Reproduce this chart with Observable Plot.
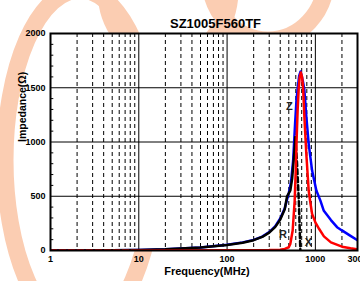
<!DOCTYPE html>
<html>
<head>
<meta charset="utf-8">
<script src="https://cdn.jsdelivr.net/npm/d3@7"></script>
<script src="https://cdn.jsdelivr.net/npm/@observablehq/plot@0.6"></script>
<style>
  html, body { margin: 0; padding: 0; background: white; }
  #wrap { position: relative; width: 360px; height: 281px; overflow: hidden; }
  #wm { position: absolute; left: 0; top: 0; z-index: 0; }
  #chart { position: absolute; left: 0; top: 0; z-index: 1; }
</style>
</head>
<body>
<div id="wrap">
  <svg id="wm" width="360" height="281">
    <ellipse cx="80" cy="160" rx="75" ry="170" fill="none" stroke="#fbcdb2" stroke-width="17"/>
    <ellipse cx="168" cy="-10" rx="62" ry="70" fill="none" stroke="#fbcdb2" stroke-width="17"/>
    <ellipse cx="268" cy="-22" rx="58" ry="62" fill="none" stroke="#fbcdb2" stroke-width="17"/>
  </svg>
  <div id="chart"></div>
</div>
<script>
const title = "SZ1005F560TF";
const xLabel = "Frequency(MHz)";
const yLabel = "Impedance(Ω)";

const xTicks = [1, 10, 100, 1000, 3000];
const xMajorGrid = [10, 100, 1000];
const xMinorGrid = [2,3,4,5,6,7,8,9,20,30,40,50,60,70,80,90,200,300,400,500,600,700,800,900,2000];
const yTicks = [0, 500, 1000, 1500, 2000];
const yGrid = [500, 1000, 1500];
const yMinor = [100,200,300,400,600,700,800,900,1100,1200,1300,1400,1600,1700,1800,1900];

// |Z| (blue)
const zFreq = [1,2,5,10,20,50,100,150,200,250,300,350,400,450,500,530,560,590,610,631,655,680,705,730,751,791,840,918,1026,1140,1241,1500,1761,2000,2500,3000];
const zVal  = [1,1,3,5,11,28,52,75,98,128,170,222,295,390,530,630,830,1180,1380,1500,1610,1650,1600,1540,1475,1228,983,737,553,460,369,280,215,185,135,95];

// X (black), rising part and falling part
const xFreq = [1,2,5,10,20,50,100,150,200,250,300,350,400,450,478,521,545,570,594];
const xVal  = [0.5,1,2.5,5,11,27,50,72,95,125,165,215,285,380,500,555,660,850,1044];
const xFallFreq = [594,620,650,676,690];
const xFallVal  = [1044,800,450,0,-200];

// R (red): low part (dashed in the reference) and main part
const rLowFreq = [1,10];
const rLowVal  = [1,1];
const rFreq = [10,100,200,300,400,450,500,520,553,583,600,612,630,648,665,686,707,726,751,791,840,878,918,1000,1100,1250,1500,2000,2500,3000];
const rVal  = [1,2,3,4,8,15,30,60,184,461,750,1000,1300,1500,1600,1640,1597,1500,1228,880,553,440,338,260,200,130,75,35,20,10];

// curve labels
const labelText = ["Z", "R", "X"];
const labelFreq = [508, 429, 833];
const labelVal  = [1327, 147, 74];

const toRows = (fs, vs) => fs.map((f, i) => ({f, v: vs[i]}));
const zData = toRows(zFreq, zVal);
const xData = toRows(xFreq, xVal);
const xFall = toRows(xFallFreq, xFallVal);
const rLow = toRows(rLowFreq, rLowVal);
const rData = toRows(rFreq, rVal);
const labels = labelText.map((t, i) => ({t, f: labelFreq[i], v: labelVal[i]}));

const font = "'Liberation Sans', Arial, sans-serif";

const chart = Plot.plot({
  width: 360,
  height: 281,
  marginTop: 33,
  marginBottom: 31,
  marginLeft: 50,
  marginRight: 3,
  style: {background: "transparent", fontFamily: font, fontWeight: "bold", fontSize: "9px", color: "black"},
  x: {type: "log", domain: [1, 3000], axis: null},
  y: {domain: [0, 2000], axis: null},
  marks: [
    Plot.frame({fill: "white"}),
    Plot.ruleX(xMinorGrid, {stroke: "black", strokeWidth: 1, strokeDasharray: "4,3"}),
    Plot.ruleX(xMajorGrid, {stroke: "black", strokeWidth: 1}),
    Plot.ruleY(yGrid, {stroke: "black", strokeWidth: 1}),
    Plot.ruleY(yMinor, {x1: 1, x2: 1.09, stroke: "black", strokeWidth: 1}),
    Plot.lineY(zData, {x: "f", y: "v", stroke: "#0000ff", strokeWidth: 2.5, clip: true}),
    Plot.lineY(xData, {x: "f", y: "v", stroke: "black", strokeWidth: 2.5, clip: true}),
    Plot.lineY(xFall, {x: "f", y: "v", stroke: "black", strokeWidth: 2.5, strokeDasharray: "5,3", clip: true}),
    Plot.lineY(rLow, {x: "f", y: "v", stroke: "#ff0000", strokeWidth: 2.5, strokeDasharray: "6,3", clip: true}),
    Plot.lineY(rData, {x: "f", y: "v", stroke: "#ff0000", strokeWidth: 2.5, clip: true}),
    Plot.text(labels, {x: "f", y: "v", text: "t", fontSize: 11, fontWeight: "bold", fill: "#222"}),
    Plot.axisY({ticks: yTicks, tickSize: 0, tickPadding: 5, label: null, tickFormat: d => String(d), fontSize: 9, fontWeight: "bold"}),
    Plot.axisX({ticks: xTicks, tickSize: 0, tickPadding: 5, label: null, tickFormat: d => String(d), fontSize: 9, fontWeight: "bold"}),
    Plot.text([yLabel], {frameAnchor: "left", dx: -28, rotate: -90, fontSize: 10.5, fontWeight: "bold"}),
    Plot.text([xLabel], {frameAnchor: "bottom", dx: 3, dy: 24, fontSize: 11, fontWeight: "bold"}),
    Plot.text([title], {frameAnchor: "top", dx: 11.5, dy: -15, fontSize: 13, fontWeight: "bold"}),
    Plot.frame({stroke: "black", strokeWidth: 2})
  ]
});
document.getElementById("chart").appendChild(chart);
</script>
</body>
</html>
